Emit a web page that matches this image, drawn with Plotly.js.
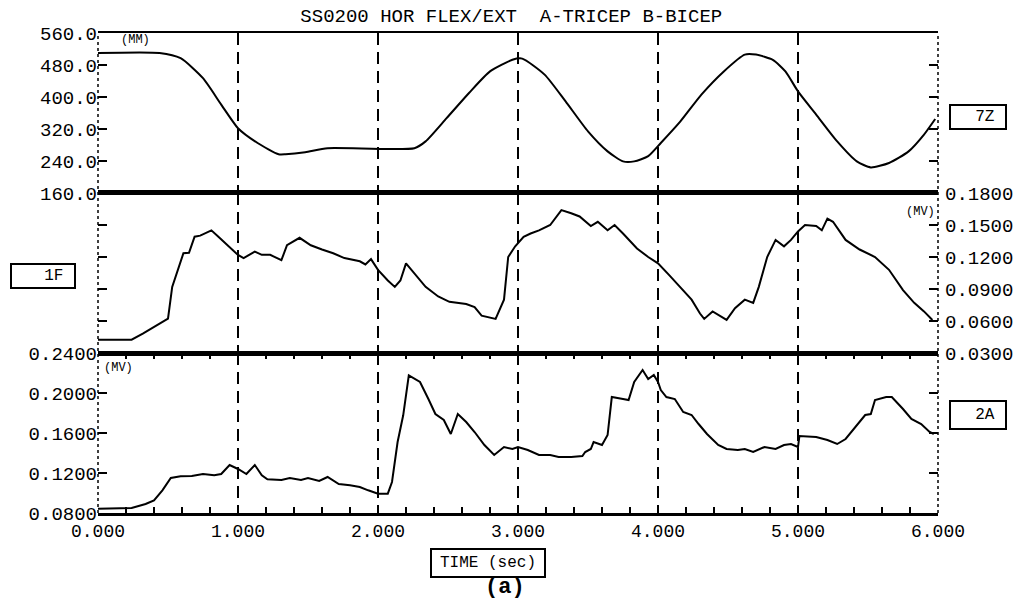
<!DOCTYPE html>
<html>
<head>
<meta charset="utf-8">
<script src="https://cdn.plot.ly/plotly-3.0.1.min.js"></script>
<style>
  html, body { margin: 0; padding: 0; background: #fff; }
  #chart { width: 1021px; height: 602px; }
</style>
</head>
<body>
<div id="chart"></div>
<script>
// Channel 7Z: hand position (MM)
const t7Z = [0, 0.44, 0.59, 0.75, 0.88, 1.0, 1.14, 1.29, 1.34, 1.48, 1.64, 2.26, 2.34, 2.49, 2.65, 2.80, 2.96, 3.03,
             3.19, 3.34, 3.50, 3.64, 3.75, 3.83, 3.93, 4.02, 4.16, 4.31, 4.47, 4.62, 4.70, 4.82, 4.91, 5.0, 5.13,
             5.28, 5.42, 5.52, 5.65, 5.79, 5.90, 5.98];
const v7Z = [510, 510, 497, 447, 381, 322, 285, 257, 257, 262, 272, 272, 289, 347, 410, 464, 493, 496,
             456, 389, 314, 264, 239, 239, 252, 285, 339, 406, 464, 506, 506, 493, 464, 414, 356,
             289, 239, 224, 235, 264, 306, 345];

// Channel 1F: tricep EMG (MV)
const t1F = [0, 0.24, 0.32, 0.40, 0.50, 0.53, 0.61, 0.65, 0.69, 0.73, 0.81, 0.86, 1.0, 1.04, 1.12, 1.17, 1.23, 1.31,
             1.35, 1.44, 1.52, 1.60, 1.68, 1.76, 1.87, 1.91, 1.95, 2.0, 2.07, 2.12, 2.16, 2.20, 2.26, 2.34, 2.43,
             2.51, 2.63, 2.69, 2.74, 2.84, 2.90, 2.93, 2.98, 3.04, 3.09, 3.15, 3.23, 3.31, 3.38, 3.44, 3.52, 3.57,
             3.64, 3.69, 3.75, 3.85, 3.93, 4.00, 4.08, 4.16, 4.24, 4.30, 4.33, 4.39, 4.49, 4.55, 4.62, 4.68, 4.72,
             4.78, 4.84, 4.90, 4.95, 5.0, 5.05, 5.13, 5.17, 5.21, 5.25, 5.34, 5.44, 5.55, 5.65, 5.75, 5.83, 5.90, 5.96];
const v1F = [0.0425, 0.0425, 0.0481, 0.0545, 0.0623, 0.092, 0.1235, 0.124, 0.139, 0.140, 0.145, 0.139, 0.122, 0.119,
             0.125, 0.122, 0.122, 0.117, 0.131, 0.138, 0.131, 0.127, 0.1235, 0.119, 0.116, 0.113, 0.118, 0.108, 0.098,
             0.092, 0.098, 0.114, 0.105, 0.092, 0.083, 0.078, 0.076, 0.073, 0.065, 0.062, 0.080, 0.120, 0.130, 0.139,
             0.142, 0.145, 0.150, 0.164, 0.161, 0.158, 0.149, 0.153, 0.145, 0.150, 0.142, 0.128, 0.120, 0.114, 0.103,
             0.092, 0.080, 0.067, 0.062, 0.069, 0.061, 0.072, 0.080, 0.077, 0.092, 0.120, 0.136, 0.130, 0.136, 0.144,
             0.150, 0.149, 0.145, 0.156, 0.153, 0.136, 0.127, 0.120, 0.108, 0.089, 0.077, 0.069, 0.061];

// Channel 2A: bicep EMG (MV)
const t2A = [0, 0.24, 0.34, 0.40, 0.46, 0.52, 0.59, 0.67, 0.75, 0.83, 0.88, 0.94, 1.0, 1.06, 1.12, 1.17, 1.21, 1.31,
             1.37, 1.45, 1.50, 1.58, 1.64, 1.72, 1.80, 1.87, 1.93, 2.0, 2.07, 2.10, 2.14, 2.18, 2.22, 2.26, 2.30, 2.36,
             2.41, 2.47, 2.52, 2.57, 2.63, 2.69, 2.76, 2.83, 2.90, 2.96, 3.0, 3.07, 3.15, 3.23, 3.29, 3.38, 3.46, 3.48,
             3.52, 3.54, 3.60, 3.64, 3.67, 3.75, 3.79, 3.83, 3.89, 3.93, 3.97, 4.0, 4.02, 4.06, 4.12, 4.18, 4.24, 4.29,
             4.35, 4.43, 4.49, 4.57, 4.62, 4.68, 4.76, 4.84, 4.90, 4.95, 5.0, 5.01, 5.13, 5.21, 5.28, 5.34, 5.40, 5.48,
             5.52, 5.55, 5.63, 5.67, 5.75, 5.81, 5.88, 5.94, 5.97];
const v2A = [0.0843, 0.085, 0.089, 0.0927, 0.1027, 0.115, 0.1167, 0.117, 0.119, 0.1177, 0.119, 0.128, 0.124, 0.119,
             0.128, 0.1177, 0.1137, 0.113, 0.115, 0.113, 0.115, 0.112, 0.116, 0.109, 0.1077, 0.106, 0.1027, 0.0993,
             0.0993, 0.111, 0.151, 0.1777, 0.2177, 0.214, 0.211, 0.194, 0.179, 0.173, 0.159, 0.179, 0.171, 0.161,
             0.148, 0.138, 0.146, 0.144, 0.146, 0.143, 0.138, 0.138, 0.136, 0.136, 0.137, 0.141, 0.144, 0.151, 0.148,
             0.158, 0.196, 0.194, 0.193, 0.211, 0.223, 0.214, 0.218, 0.211, 0.203, 0.196, 0.194, 0.181, 0.178, 0.169,
             0.159, 0.148, 0.144, 0.143, 0.144, 0.141, 0.146, 0.144, 0.148, 0.149, 0.146, 0.157, 0.156, 0.153, 0.149,
             0.154, 0.164, 0.178, 0.179, 0.193, 0.196, 0.196, 0.184, 0.174, 0.169, 0.161, 0.159];

// Axis ticks and their printed labels
const timeTicks = [0, 1, 2, 3, 4, 5, 6];
const timeLabels = ['0.000', '1.000', '2.000', '3.000', '4.000', '5.000', '6.000'];
const mmTicks = [160, 240, 320, 400, 480, 560];
const mmLabels = ['160.0', '240.0', '320.0', '400.0', '480.0', '560.0'];
const fTicks = [0.03, 0.06, 0.09, 0.12, 0.15, 0.18];
const fLabels = ['0.0300', '0.0600', '0.0900', '0.1200', '0.1500', '0.1800'];
const aTicks = [0.08, 0.12, 0.16, 0.20, 0.24];
const aLabels = ['0.0800', '0.1200', '0.1600', '0.2000', '0.2400'];

const titleText = 'SS0200 HOR FLEX/EXT  A-TRICEP B-BICEP';

const FONT = 'Liberation Mono, DejaVu Sans Mono, monospace';
const INK = '#000';

const traceLine = { color: INK, width: 2 };
const traces = [
  { x: t7Z, y: v7Z, xaxis: 'x', yaxis: 'y', mode: 'lines', line: Object.assign({ shape: 'spline', smoothing: 0.6 }, traceLine), hoverinfo: 'skip' },
  { x: t1F, y: v1F, xaxis: 'x', yaxis: 'y2', mode: 'lines', line: traceLine, hoverinfo: 'skip' },
  { x: t2A, y: v2A, xaxis: 'x', yaxis: 'y3', mode: 'lines', line: traceLine, hoverinfo: 'skip' }
];

const yCommon = {
  showgrid: false, zeroline: false, showline: false,
  ticks: 'inside', ticklen: 9, tickwidth: 2, tickcolor: INK,
  mirror: 'ticks', anchor: 'x', fixedrange: true,
  tickfont: { family: FONT, size: 19, color: INK }
};

function note(text, x, y, size) {
  return {
    text: text, xref: 'paper', yref: 'paper', x: x, y: y, showarrow: false,
    xanchor: 'center', yanchor: 'middle',
    font: { family: FONT, size: size, color: INK }
  };
}

function boxLabel(text, x, y, w, h) {
  return Object.assign(note(text, x, y, 16), {
    width: w, height: h, align: 'right', valign: 'middle',
    bordercolor: INK, borderwidth: 2, borderpad: 1
  });
}

// dotted side borders of the stacked panels
const sideBorder = (xp) => ({
  type: 'line', xref: 'paper', yref: 'paper', x0: xp, x1: xp, y0: 0, y1: 1,
  line: { color: INK, width: 1.5, dash: 'dot' }
});

const layout = {
  width: 1021, height: 602,
  margin: { l: 98, r: 83, t: 33, b: 89 },
  paper_bgcolor: '#fff', plot_bgcolor: '#fff',
  showlegend: false,
  font: { family: FONT, color: INK },
  title: {
    text: titleText, xref: 'paper', x: 0.492, xanchor: 'center',
    yref: 'container', y: 0.975, yanchor: 'middle',
    font: { family: FONT, size: 19, color: INK }
  },
  xaxis: {
    range: [0, 6], anchor: 'y3', fixedrange: true,
    tickvals: timeTicks, ticktext: timeLabels,
    ticks: 'inside', ticklen: 6, tickwidth: 2, tickcolor: INK,
    minor: { dtick: 0.2, ticks: 'inside', ticklen: 6, tickwidth: 1.5, tickcolor: INK, showgrid: false },
    showgrid: true, griddash: '12px,7px', gridcolor: INK, gridwidth: 1.3,
    showline: true, linecolor: INK, linewidth: 2.5, mirror: 'all',
    zeroline: false,
    tickfont: { family: FONT, size: 18, color: INK }
  },
  yaxis: Object.assign({}, yCommon, {
    domain: [0.6667, 1], range: [160, 560], side: 'left',
    tickvals: mmTicks, ticktext: mmLabels
  }),
  yaxis2: Object.assign({}, yCommon, {
    domain: [0.3333, 0.6667], range: [0.03, 0.18], side: 'right',
    tickvals: fTicks, ticktext: fLabels, ticklabelstandoff: 6
  }),
  yaxis3: Object.assign({}, yCommon, {
    domain: [0, 0.3333], range: [0.08, 0.24], side: 'left',
    tickvals: aTicks, ticktext: aLabels
  }),
  shapes: [sideBorder(0), sideBorder(1)],
  annotations: [
    note('(MM)', 0.045, 0.985, 12),
    note('(MV)', 0.979, 0.627, 12),
    note('(MV)', 0.024, 0.302, 12),
    boxLabel('7Z ', 1.048, 0.825, 52, 20),
    boxLabel('1F ', -0.065, 0.494, 60, 20),
    boxLabel('2A ', 1.048, 0.204, 52, 24),
    Object.assign(boxLabel('TIME (sec)', 0.464, -0.104, 110, 24), { align: 'center' }),
    Object.assign(note('(a)', 0.485, -0.156, 22), { font: { family: FONT, size: 22, color: INK, weight: 'bold' } })
  ]
};

Plotly.newPlot('chart', traces, layout, { staticPlot: true, displayModeBar: false });
</script>
</body>
</html>
